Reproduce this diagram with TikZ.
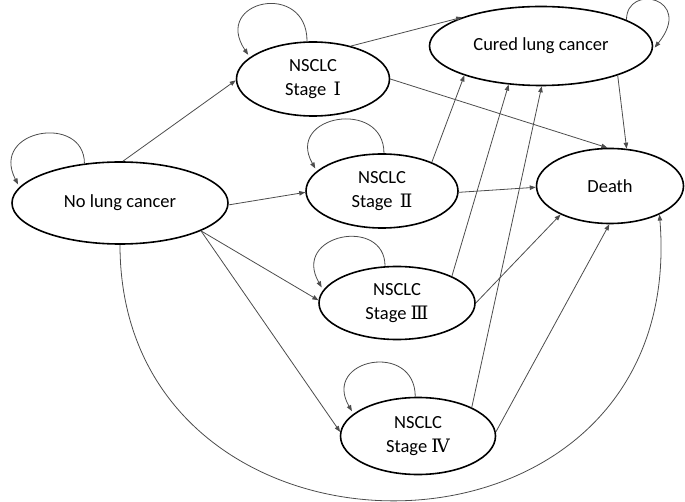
\documentclass[tikz,border=0pt]{standalone}
\usepackage{fontspec}
\setmainfont{Carlito}
\newfontfamily\romnum{DejaVu Serif}
\usetikzlibrary{shapes.geometric}
\usetikzlibrary{arrows.meta}

\begin{document}
\begin{tikzpicture}[x=1pt, y=-1pt,
    stage/.style={ellipse, draw=black, line width=1.6pt, inner sep=0pt, align=center, font=\fontsize{18.5}{23.5}\selectfont},
    trans/.style={-{Triangle[length=6pt, width=4.5pt]}, draw=black!70, line width=0.8pt},
    stay/.style={trans, shorten >=3pt}]
    \useasboundingbox (0,0) rectangle (685,502);

    \node[stage, minimum width=216pt, minimum height=82pt] (nolung) at (120, 203) {No lung cancer};
    \node[stage, minimum width=153pt, minimum height=74pt] (stageI) at (313, 79) {NSCLC\\Stage\, {\romnum Ⅰ}};
    \node[stage, minimum width=152pt, minimum height=74pt] (stageII) at (382, 191) {NSCLC\\Stage\, {\romnum Ⅱ}};
    \node[stage, minimum width=156pt, minimum height=73pt] (stageIII) at (397, 303) {NSCLC\\Stage {\romnum Ⅲ}};
    \node[stage, minimum width=155pt, minimum height=77pt] (stageIV) at (418, 436) {NSCLC\\Stage {\romnum Ⅳ}};
    \node[stage, minimum width=223pt, minimum height=79pt] (cured) at (541, 46) {Cured lung cancer};
    \node[stage, minimum width=147pt, minimum height=75pt] (death) at (610, 186) {Death};

    % staying in the same state
    \draw[stay] (nolung.132) .. controls +(0,-50) and +(-30,-58) .. (nolung.171);
    \draw[stay] (stageI.99) .. controls +(0,-61) and +(-38,-57) .. (stageI.161);
    \draw[stay] (stageII.87) .. controls +(0,-55) and +(-32,-56) .. (stageII.163);
    \draw[stay] (stageIII.108) .. controls +(0,-50) and +(-32,-56) .. (stageIII.170);
    \draw[stay] (stageIV.94) .. controls +(0,-56) and +(-32,-55) .. (stageIV.161);
    \draw[stay] (cured.17) .. controls +(0,-37) and +(42,-52) .. (cured.358);

    % onset
    \draw[trans] (nolung.86) -- (stageI.181);
    \draw[trans] (nolung.359) -- (stageII.181);
    \draw[trans] (nolung.341) -- (stageIII.178);
    \draw[trans] (nolung.341) -- (stageIV.177);
    \draw[trans] (nolung.270) .. controls +(0,346) and +(30,375) .. (death.330);

    % cure
    \draw[trans] (stageI.41) -- (cured.160);
    \draw[trans] (stageII.30) -- (cured.201);
    \draw[trans] (stageIII.26) -- (cured.230);
    \draw[trans] (stageIV.28) -- (cured.271);

    % death
    \draw[trans] (stageI.0) -- (death.94);
    \draw[trans] (cured.339) -- (death.66);
    \draw[trans] (stageII.359) -- (death.181);
    \draw[trans] (stageIII.0) -- (death.210);
    \draw[trans] (stageIV.3) -- (death.269);
\end{tikzpicture}
\end{document}
